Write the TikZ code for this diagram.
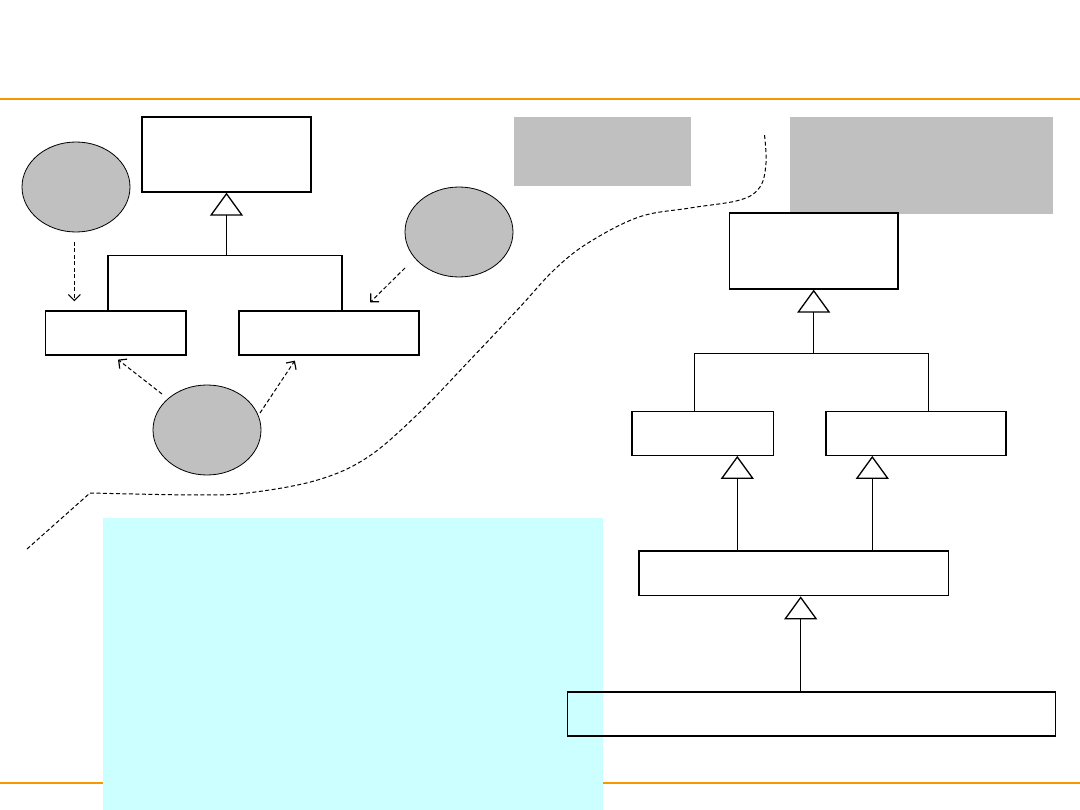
\documentclass[tikz,border=0pt]{standalone}
\usetikzlibrary{shapes.geometric,arrows.meta,calc}
\definecolor{barorange}{RGB}{247,152,0}
\definecolor{boxgray}{RGB}{192,192,192}
\definecolor{notecyan}{RGB}{204,255,255}
\tikzset{
  classbox/.style={draw=black,line width=1.3pt,fill=white,rectangle,inner sep=0pt},
  objoval/.style={draw=black,line width=0.8pt,fill=boxgray,ellipse,inner sep=0pt,minimum width=108pt,minimum height=90pt},
  graybox/.style={fill=boxgray,draw=none,rectangle,inner sep=0pt},
  gen/.style={line width=1pt,-{Triangle[open,length=23pt,width=33pt,line width=1.3pt,fill=white]}},
  tree/.style={line width=1.1pt},
  dashy/.style={line width=1pt,dash pattern=on 4pt off 2.5pt},
  dep/.style={dashy,-{Straight Barb[length=6pt,width=12pt,line width=1.2pt]}},
  bar/.style={draw=barorange,line width=2.2pt}
}
\begin{document}
\begin{tikzpicture}[x=1pt,y=-1pt]
\useasboundingbox (0,0) rectangle (1080,810);
\fill[white] (0,0) rectangle (1080,810);
% orange rules
\draw[bar] (0,99) -- (1080,99);
\draw[bar] (0,783) -- (1080,783);
% gray note boxes
\node[graybox,minimum width=177pt,minimum height=69pt] (G1) at (602.5,151.5) {};
\node[graybox,minimum width=263pt,minimum height=97pt] (G2) at (921.5,165.5) {};
% cyan note
\node[fill=notecyan,draw=none,rectangle,inner sep=0pt,minimum width=500pt,minimum height=292pt] (K) at (353,664) {};
% left tree
\node[classbox,minimum width=169pt,minimum height=75pt] (A) at (226.5,154.5) {};
\node[classbox,minimum width=140.5pt,minimum height=44pt] (B) at (115.75,333) {};
\node[classbox,minimum width=180pt,minimum height=44pt] (C) at (329,333) {};
\coordinate (jA) at ($(A.south)+(0,63)$);
\coordinate (bA) at ($(B.north)+(-7.75,0)$);
\coordinate (cA) at ($(C.north)+(13,0)$);
\draw[tree] (bA) |- (jA) -| (cA);
\draw[gen] (jA) -- (A.south);
% ovals
\node[objoval] (E1) at (76,187) {};
\node[objoval] (E2) at (459,232) {};
\node[objoval] (E3) at (207,430) {};
\draw[dep] ($(E1.center)+(-1.6,55)$) -- ($(B.north -| E1.center)+(-1.6,-9)$);
\draw[dep] ($(E2.center)+(-54,36)$) -- ($(C.north east)+(-49.5,-8)$);
\draw[dep] ($(E3.center)+(-45,-36)$) -- ($(B.south)+(2.25,4)$);
\draw[dep] ($(E3.center)+(53,-17)$) -- ($(C.south west)+(56.5,5)$);
% right tree
\node[classbox,minimum width=168.6pt,minimum height=76pt] (D) at (813.7,251) {};
\node[classbox,minimum width=141.5pt,minimum height=44pt] (F) at (702.75,433.25) {};
\node[classbox,minimum width=180pt,minimum height=44pt] (H) at (916,433.25) {};
\node[classbox,minimum width=309.7pt,minimum height=44.7pt] (I) at (793.85,573.35) {};
\node[classbox,fill=none,minimum width=488.3pt,minimum height=44pt] (J) at (811.65,714) {};
\coordinate (jD) at ($(D.south)+(0,64)$);
\coordinate (fD) at ($(F.north)+(-8.15,0)$);
\coordinate (hD) at ($(H.north)+(12.8,0)$);
\draw[tree] (fD) |- (jD) -| (hD);
\draw[gen] (jD) -- (D.south);
\coordinate (iL) at ($(I.north)+(-56.55,0)$);
\coordinate (iR) at ($(I.north)+(78.45,0)$);
\draw[gen] (iL) -- (iL |- F.south);
\draw[gen] (iR) -- (iR |- H.south);
\coordinate (jI) at ($(J.north)+(-10.95,0)$);
\draw[gen] (jI) -- (jI |- I.south);
% dashed boundary
\coordinate (s0) at (27,549);
\coordinate (s1) at (90,493);
\draw[dashy] (s0) -- (s1)
  plot[smooth,tension=0.6] coordinates {(90,493) (198,495) (250,492.7) (317.6,480) (368,457) (419,413) (470,360) (520,307) (554,270) (588,243) (639,217) (690,208) (740,200) (760,187) (766,163) (764.5,135)};
\end{tikzpicture}
\end{document}
